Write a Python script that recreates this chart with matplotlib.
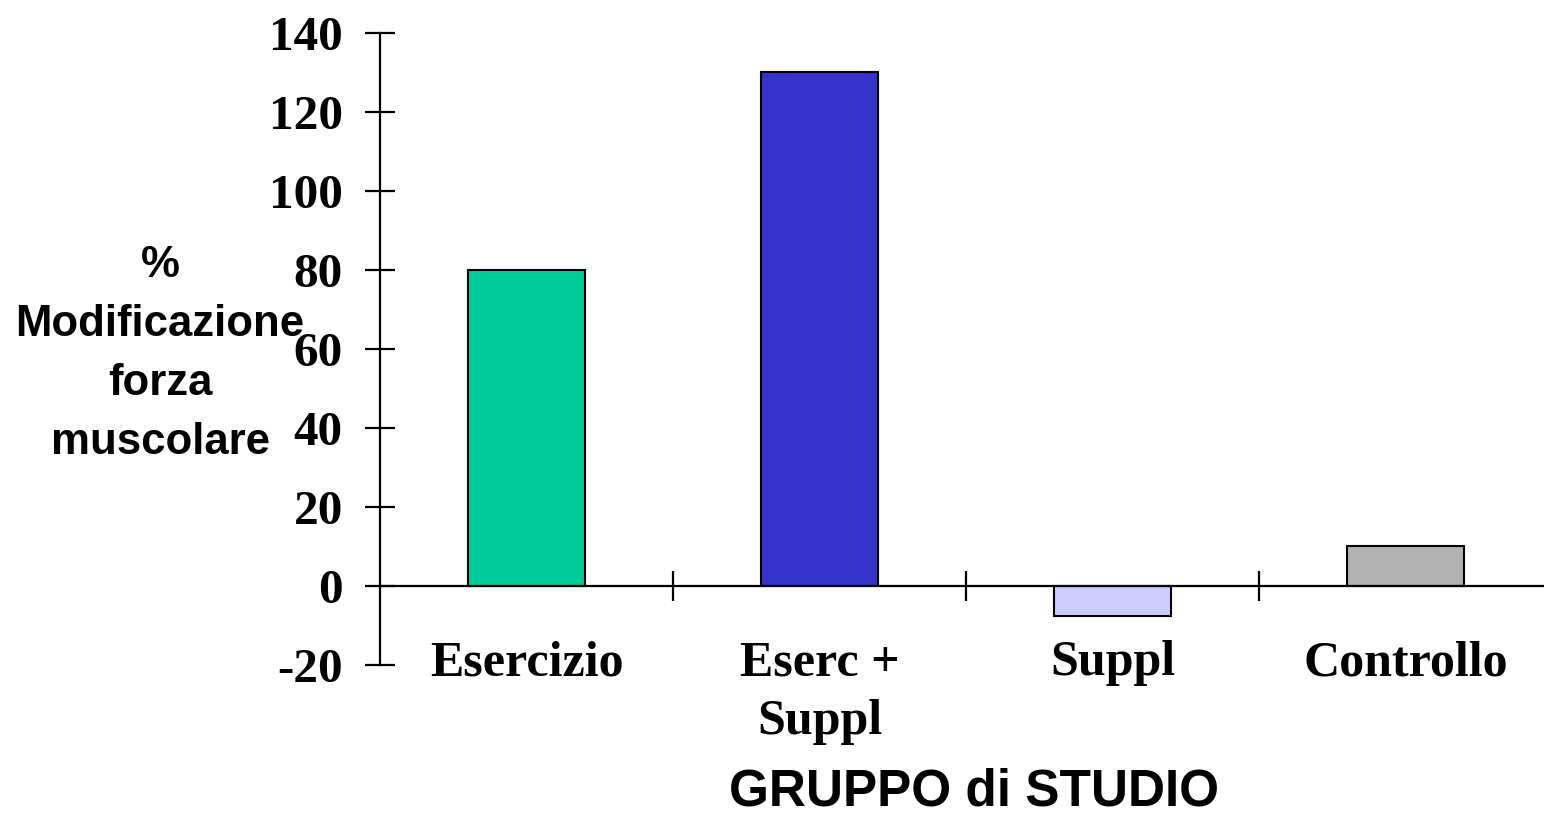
import numpy as np
import matplotlib
matplotlib.use("Agg")
import matplotlib.pyplot as plt

# data
groups = ["Esercizio", "Eserc +\nSuppl", "Suppl", "Controllo"]
change_pct = [80, 130, -7.5, 10]
bar_colors = ["#00CC99", "#3333CC", "#CCCCFF", "#B2B2B2"]
y_ticks = [-20, 0, 20, 40, 60, 80, 100, 120, 140]

fig = plt.figure(figsize=(15.44, 8.15), dpi=100)
ax = fig.add_axes([0.2461, 0.1840, 0.7590, 0.7759])

x = np.arange(len(groups))
ax.bar(x, change_pct, width=0.4, color=bar_colors, edgecolor="black", linewidth=1.5, zorder=3)

ax.set_xlim(-0.5, len(groups) - 0.5)
ax.set_ylim(-20, 140)

# spines: y axis on the left, x axis through zero
ax.spines["top"].set_visible(False)
ax.spines["right"].set_visible(False)
ax.spines["bottom"].set_position(("data", 0))
ax.spines["left"].set_linewidth(1.6)
ax.spines["bottom"].set_linewidth(1.6)
ax.spines["bottom"].set_zorder(4)

# y ticks
ax.set_yticks(y_ticks)
ax.set_yticklabels([str(v) for v in y_ticks], fontfamily="Liberation Serif",
                   fontweight="bold", fontsize=35.5)
ax.tick_params(axis="y", direction="inout", length=21.6, width=1.6, pad=16)

# x: boundary ticks (major, no labels), category labels on minor ticks
ax.set_xticks(x[:-1] + 0.5)
ax.set_xticklabels([])
ax.tick_params(axis="x", which="major", direction="inout", length=21.6, width=1.6)
ax.set_xticks(x, minor=True)
ax.set_xticklabels(groups, minor=True, fontfamily="Liberation Serif",
                   fontweight="bold", fontsize=36)
ax.tick_params(axis="x", which="minor", length=0, pad=39)
for lbl in ax.get_xticklabels(minor=True):
    lbl.set_linespacing(1.36)

fig.text(160 / 1544, 1 - 354 / 815, "%\nModificazione\nforza\nmuscolare",
         ha="center", va="center", multialignment="center", linespacing=1.57,
         fontfamily="Liberation Sans", fontweight="bold", fontsize=31.5)
fig.text(974 / 1544, 1 - 792 / 815, "GRUPPO di STUDIO", ha="center", va="center",
         fontfamily="Liberation Sans", fontweight="bold", fontsize=37)

fig.savefig("out.png", dpi=100)
